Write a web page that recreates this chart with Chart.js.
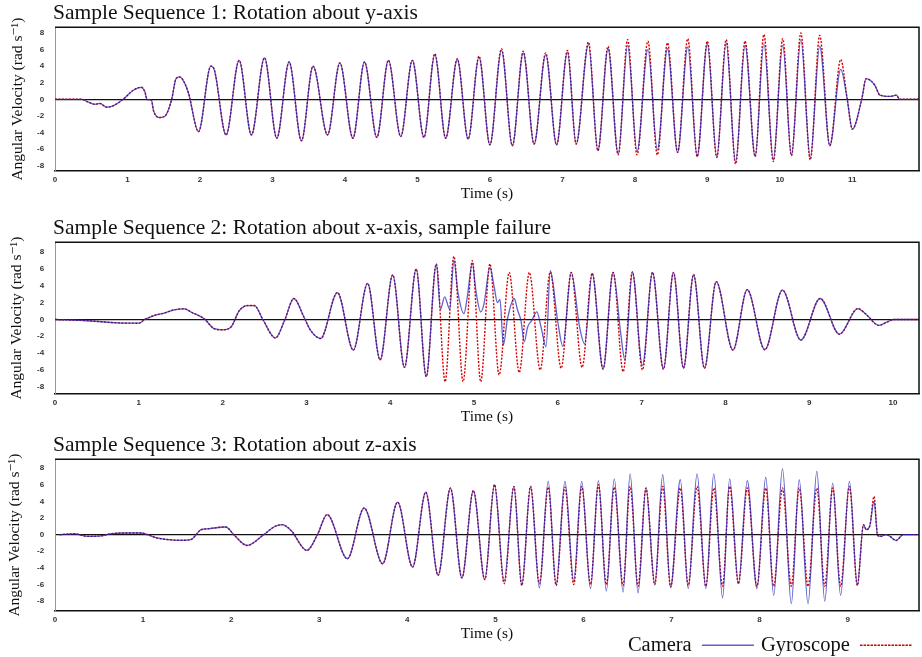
<!DOCTYPE html>
<html>
<head>
<meta charset="utf-8">
<script src="https://cdn.jsdelivr.net/npm/chart.js@4"></script>
<style>
  body { margin: 0; background: #fff; width: 922px; height: 657px; overflow: hidden; position: relative; }
  canvas { position: absolute; left: 0; }
</style>
</head>
<body>
<canvas id="seq1" width="922" height="205" style="top:0px"></canvas>
<canvas id="seq2" width="922" height="213" style="top:215px"></canvas>
<canvas id="seq3" width="922" height="225" style="top:432px"></canvas>
<script>
// === DATA (time in s, angular velocity in rad/s) ===

// Sequence 1: rotation about y-axis
const seq1Time = [
  0, 0.37, 0.45, 0.55, 0.62, 0.71, 0.80, 0.94, 1.08, 1.19,
  1.24, 1.27, 1.33, 1.36, 1.44, 1.52, 1.61, 1.67, 1.72, 1.76,
  1.84, 1.98, 2.15, 2.20, 2.36, 2.54, 2.71, 2.89, 3.06, 3.23,
  3.40, 3.56, 3.76, 3.93, 4.11, 4.27, 4.44, 4.60, 4.77, 4.93,
  5.09, 5.24, 5.39, 5.55, 5.70, 5.85, 6.00, 6.16, 6.31, 6.46,
  6.61, 6.77, 6.92, 7.07, 7.19, 7.36, 7.49, 7.63, 7.77, 7.90,
  8.03, 8.18, 8.31, 8.45, 8.59, 8.73, 8.86, 9.00, 9.13, 9.26,
  9.39, 9.52, 9.66, 9.78, 9.91, 10.04, 10.16, 10.29, 10.42, 10.55,
  10.69, 10.84, 10.93, 11.00, 11.13, 11.19, 11.31, 11.38, 11.52, 11.61,
  11.65, 11.92
];
const seq1Gyro = [
  0, 0, -0.3, -0.6, -0.5, -0.95, -0.8, 0, 1.1, 1.45,
  0.9, 0, -0.1, -1.4, -2.2, -2.0, 0, 2.5, 2.7, 2.4,
  0.8, -3.9, 4.0, 3.5, -4.3, 4.7, -4.3, 5.0, -4.7, 4.5,
  -5.0, 4.0, -4.3, 4.4, -4.7, 4.5, -4.6, 4.7, -4.5, 4.7,
  -4.6, 5.5, -4.7, 4.9, -4.8, 5.2, -5.5, 6.1, -5.6, 5.8,
  -5.4, 5.6, -5.5, 5.9, -5.4, 6.9, -6.2, 6.4, -6.7, 7.2,
  -6.7, 7.0, -6.7, 6.8, -6.4, 7.3, -6.9, 7.0, -7.0, 7.2,
  -7.8, 7.0, -6.9, 7.8, -7.5, 7.3, -6.8, 8.0, -7.3, 7.7,
  -5.6, 4.8, 0, -3.6, 0, 2.5, 1.7, 0.5, 0.35, 0.5,
  0, 0
];
const seq1Camera = [
  0, 0, -0.3, -0.6, -0.5, -0.95, -0.8, 0, 1.1, 1.45,
  0.9, 0, -0.1, -1.4, -2.2, -2.0, 0, 2.5, 2.7, 2.4,
  0.8, -3.9, 4.0, 3.5, -4.3, 4.7, -4.3, 5.0, -4.7, 4.5,
  -5.0, 4.0, -4.3, 4.4, -4.7, 4.5, -4.6, 4.7, -4.5, 4.7,
  -4.6, 5.4, -4.7, 4.8, -4.8, 5.1, -5.5, 5.9, -5.6, 5.6,
  -5.4, 5.4, -5.5, 5.7, -5.4, 6.6, -6.2, 6.1, -6.6, 6.5,
  -6.3, 6.0, -6.1, 6.1, -6.4, 6.3, -6.9, 6.7, -7.0, 6.8,
  -7.6, 6.5, -6.9, 6.7, -7.3, 6.5, -6.8, 7.2, -7.1, 6.4,
  -5.6, 3.6, 0, -3.6, 0, 2.5, 1.7, 0.5, 0.35, 0.5,
  0, 0
];

// Sequence 2: rotation about x-axis, sample failure
const seq2Time = [
  0, 0.40, 0.75, 1.00, 1.07, 1.19, 1.30, 1.42, 1.54, 1.64,
  1.78, 1.90, 2.00, 2.10, 2.20, 2.30, 2.38, 2.48, 2.63, 2.74,
  2.85, 2.97, 3.05, 3.17, 3.37, 3.56, 3.73, 3.88, 4.03, 4.17,
  4.31, 4.43, 4.55, 4.655, 4.76, 4.87, 4.98, 5.08, 5.19, 5.30,
  5.42, 5.54, 5.66, 5.79, 5.91, 6.04, 6.16, 6.29, 6.41, 6.54,
  6.66, 6.78, 6.89, 7.01, 7.13, 7.26, 7.38, 7.50, 7.62, 7.75,
  7.89, 8.09, 8.26, 8.47, 8.68, 8.90, 9.13, 9.36, 9.58, 9.68,
  9.83, 9.93, 10.01, 10.31
];
const seq2Gyro = [
  0, -0.15, -0.4, -0.44, 0, 0.5, 0.75, 1.15, 1.27, 0.8,
  0.1, -1.1, -1.23, -0.9, 1.07, 1.66, 1.66, 0, -2.2, -0.1,
  2.5, 0.3, -1.3, -2.26, 3.2, -3.65, 4.3, -4.8, 5.3, -5.7,
  6.0, -6.8, 6.6, -7.4, 7.5, -7.4, 7.0, -7.4, 6.6, -6.6,
  5.6, -6.3, 5.6, -6.0, 5.65, -5.8, 5.6, -5.7, 5.5, -5.9,
  5.6, -6.2, 5.65, -6.0, 5.6, -5.9, 5.6, -5.8, 5.35, -5.8,
  4.5, -3.65, 3.55, -3.6, 3.5, -2.45, 2.5, -1.75, 1.3, 0.6,
  -0.7, -0.3, 0, 0
];
const seq2CamTime = [
  0, 0.40, 0.75, 1.00, 1.07, 1.19, 1.30, 1.42, 1.54, 1.64,
  1.78, 1.90, 2.00, 2.10, 2.20, 2.30, 2.38, 2.48, 2.63, 2.74,
  2.85, 2.97, 3.05, 3.17, 3.37, 3.56, 3.73, 3.88, 4.03, 4.17,
  4.31, 4.43, 4.55, 4.60, 4.65, 4.71, 4.76, 4.81, 4.88, 4.92,
  4.98, 5.02, 5.08, 5.12, 5.19, 5.24, 5.28, 5.31, 5.35, 5.40,
  5.48, 5.52, 5.56, 5.60, 5.64, 5.69, 5.75, 5.80, 5.86, 5.91,
  6.00, 6.06, 6.16, 6.26, 6.32, 6.41, 6.54, 6.66, 6.75, 6.80,
  6.89, 7.01, 7.13, 7.26, 7.38, 7.50, 7.62, 7.75, 7.89, 8.09,
  8.26, 8.47, 8.68, 8.90, 9.13, 9.36, 9.58, 9.68, 9.83, 9.93,
  10.01, 10.31
];
const seq2Camera = [
  0, -0.15, -0.4, -0.44, 0, 0.5, 0.75, 1.15, 1.27, 0.8,
  0.1, -1.1, -1.23, -0.9, 1.07, 1.66, 1.66, 0, -2.2, -0.1,
  2.5, 0.3, -1.3, -2.26, 3.2, -3.65, 4.3, -4.8, 5.3, -5.7,
  6.0, -6.8, 6.6, 1.2, 2.7, 1.2, 7.0, 3.1, 0.7, 2.7,
  6.7, 3.6, 0.9, 1.9, 6.2, 3.9, 2.0, 2.4, -3.05, 0.1,
  2.5, 1.1, -0.1, -2.65, -0.9, -0.1, 0.9, -0.9, -3.25, 5.8,
  -0.3, -3.2, 5.6, -0.9, -2.9, 5.5, -5.9, 5.6, -1.6, -4.8,
  5.65, -5.5, 5.6, -5.9, 5.6, -5.8, 5.35, -5.8, 4.5, -3.65,
  3.55, -3.6, 3.5, -2.45, 2.5, -1.75, 1.3, 0.6, -0.7, -0.3,
  0, 0
];

// Sequence 3: rotation about z-axis
const seq3Time = [
  0.05, 0.22, 0.37, 0.52, 0.63, 0.79, 0.98, 1.05, 1.16, 1.43,
  1.54, 1.66, 1.73, 1.94, 2.03, 2.18, 2.37, 2.49, 2.58, 2.68,
  2.86, 2.98, 3.09, 3.32, 3.51, 3.72, 3.89, 4.06, 4.21, 4.35,
  4.49, 4.62, 4.75, 4.88, 4.99, 5.10, 5.21, 5.30, 5.40, 5.50,
  5.60, 5.69, 5.79, 5.89, 5.98, 6.08, 6.17, 6.26, 6.35, 6.45,
  6.53, 6.62, 6.71, 6.81, 6.90, 6.99, 7.10, 7.19, 7.29, 7.39,
  7.48, 7.58, 7.66, 7.76, 7.86, 7.97, 8.07, 8.16, 8.26, 8.36,
  8.45, 8.55, 8.65, 8.74, 8.83, 8.92, 9.02, 9.11, 9.18, 9.21,
  9.25, 9.30, 9.34, 9.38, 9.43, 9.48, 9.55, 9.63, 9.81
];
const seq3Gyro = [
  0, 0.1, -0.2, -0.15, 0.1, 0.2, 0.2, 0, -0.4, -0.68,
  -0.6, 0.6, 0.7, 0.92, 0, -1.3, 0, 0.95, 1.2, 0.5,
  -1.9, 0, 2.4, -2.9, 3.2, -3.5, 3.9, -3.9, 5.1, -4.9,
  5.6, -5.2, 5.3, -5.4, 6.0, -5.9, 5.8, -6.1, 5.8, -5.9,
  5.7, -6.1, 5.7, -6.0, 5.8, -6.0, 6.0, -6.0, 5.7, -6.1,
  5.8, -6.2, 5.6, -6.0, 5.8, -6.3, 5.6, -6.1, 5.8, -6.2,
  5.6, -6.2, 5.8, -5.9, 5.6, -6.2, 5.6, -6.2, 5.6, -6.2,
  5.6, -6.2, 5.6, -6.2, 5.6, -6.2, 5.8, -6.1, 1.2, 0.6,
  1.0, 4.6, -0.1, -0.2, 0, -0.2, -0.7, 0, 0
];
const seq3Camera = [
  0, 0.1, -0.2, -0.15, 0.1, 0.2, 0.2, 0, -0.4, -0.68,
  -0.6, 0.6, 0.7, 0.92, 0, -1.3, 0, 0.95, 1.2, 0.5,
  -1.9, 0, 2.4, -2.9, 3.2, -3.5, 3.9, -3.9, 5.1, -4.9,
  5.6, -5.2, 5.3, -5.4, 6.0, -5.6, 5.8, -6.1, 5.8, -6.4,
  6.4, -6.1, 6.4, -5.6, 6.4, -6.5, 6.5, -6.8, 6.7, -6.9,
  7.3, -7.0, 5.6, -6.0, 7.2, -6.3, 6.6, -6.5, 7.3, -6.5,
  7.3, -7.6, 6.7, -5.9, 6.5, -6.5, 6.9, -7.3, 7.9, -8.3,
  6.6, -8.3, 7.6, -8.0, 6.2, -7.3, 6.4, -6.1, 1.2, 0.6,
  1.0, 4.0, -0.1, -0.2, 0, -0.2, -0.7, 0, 0
];

const serif = "'Liberation Serif', 'DejaVu Serif', serif";
const sans = "'Liberation Sans', 'DejaVu Sans', sans-serif";

// top + right edge of the plot box
const frame = {
  id: 'frame',
  afterDraw(chart) {
    const { ctx, chartArea: a } = chart;
    ctx.save();
    ctx.strokeStyle = '#111';
    ctx.lineWidth = 1.5;
    ctx.beginPath();
    ctx.moveTo(a.left, a.top);
    ctx.lineTo(a.right, a.top);
    ctx.lineTo(a.right, a.bottom);
    ctx.stroke();
    ctx.restore();
  }
};

function points(times, values) {
  return times.map((t, i) => ({ x: t, y: values[i] }));
}

function drawPanel(id, p) {
  return new Chart(document.getElementById(id), {
    type: 'line',
    data: {
      datasets: [
        {
          label: 'Camera',
          data: points(p.camTime, p.camera),
          borderColor: 'rgba(30,30,185,0.7)',
          backgroundColor: 'transparent',
          borderWidth: 1.3
        },
        {
          label: 'Gyroscope',
          data: points(p.gyroTime, p.gyro),
          borderColor: '#d40000',
          backgroundColor: 'transparent',
          borderWidth: 1.4,
          borderDash: [2, 1.5]
        }
      ]
    },
    options: {
      responsive: false,
      animation: false,
      layout: { padding: { left: 53, right: 3, top: 0, bottom: 0 } },
      elements: {
        point: { radius: 0 },
        line: { cubicInterpolationMode: 'monotone' }
      },
      plugins: {
        title: {
          display: true,
          text: p.title,
          align: 'start',
          color: '#111',
          font: { family: serif, size: 21.5, weight: 'normal', lineHeight: 1.2 },
          padding: { top: 0, bottom: 1.4 }
        },
        legend: p.legend ? {
          display: true,
          position: 'bottom',
          align: 'start',
          rtl: true,
          reverse: true,
          maxHeight: 29,
          labels: {
            boxWidth: 52,
            boxHeight: 0,
            padding: 7,
            color: '#111',
            font: { family: serif, size: 20.5 }
          }
        } : { display: false },
        tooltip: { enabled: false }
      },
      scales: {
        x: {
          type: 'linear',
          min: 0,
          max: p.xMax,
          afterFit: (s) => { s.height = p.xHeight; },
          grid: { display: false, drawTicks: false },
          border: { color: '#111', width: 1.5 },
          ticks: {
            stepSize: 1,
            includeBounds: false,
            maxRotation: 0,
            padding: 4,
            color: '#333',
            font: { family: sans, size: 8, weight: 'bold' }
          },
          title: {
            display: true,
            text: 'Time (s)',
            color: '#111',
            font: { family: serif, size: 15.5 },
            padding: { top: 0, bottom: p.timePad }
          }
        },
        y: {
          min: p.yMin,
          max: p.yMax,
          afterFit: (s) => { s.width = 2; },
          grid: {
            drawTicks: false,
            color: (c) => (c.tick && c.tick.value === 0 ? '#111' : 'transparent'),
            lineWidth: 1.3
          },
          border: { color: '#999', width: 1 },
          ticks: {
            stepSize: 2,
            includeBounds: false,
            // labels sit left of the narrow axis box, right-aligned at x = 44
            mirror: true,
            crossAlign: 'far',
            padding: -18,
            color: '#333',
            font: { family: sans, size: 8, weight: 'bold' }
          },
          title: {
            display: true,
            text: 'Angular Velocity (rad s⁻¹)',
            color: '#111',
            font: { family: serif, size: 15.5 },
            padding: { top: p.yTitlePad, bottom: 0 }
          }
        }
      }
    },
    plugins: [frame]
  });
}

drawPanel('seq1', {
  title: 'Sample Sequence 1: Rotation about y-axis',
  camTime: seq1Time, camera: seq1Camera,
  gyroTime: seq1Time, gyro: seq1Gyro,
  xMax: 11.92, yMin: -8.65, yMax: 8.7,
  xHeight: 34, timePad: 2.2, yTitlePad: -44, legend: false
});

drawPanel('seq2', {
  title: 'Sample Sequence 2: Rotation about x-axis, sample failure',
  camTime: seq2CamTime, camera: seq2Camera,
  gyroTime: seq2Time, gyro: seq2Gyro,
  xMax: 10.31, yMin: -8.87, yMax: 9.2,
  xHeight: 34, timePad: 2.2, yTitlePad: -45, legend: false
});

drawPanel('seq3', {
  title: 'Sample Sequence 3: Rotation about z-axis',
  camTime: seq3Time, camera: seq3Camera,
  gyroTime: seq3Time, gyro: seq3Gyro,
  xMax: 9.81, yMin: -9.18, yMax: 9.07,
  xHeight: 17, timePad: -15.3, yTitlePad: -47, legend: true
});
</script>
</body>
</html>
